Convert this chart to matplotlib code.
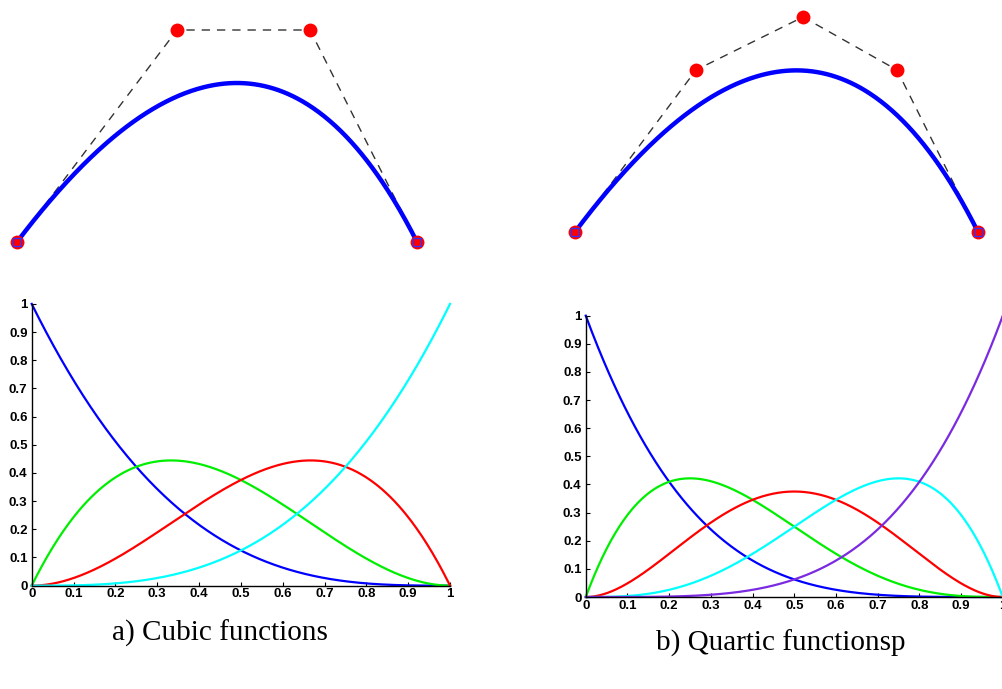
import numpy as np
import matplotlib
matplotlib.use("Agg")
import matplotlib.pyplot as plt
from math import comb

# control polygons, drawn in a page frame (x to the right, y downwards)
cubic_x = [17, 177, 310, 417]
cubic_y = [242, 30, 30, 242]
quartic_x = [575, 696, 803, 897, 978]
quartic_y = [232, 70, 17, 70, 232]

# basis function colours, one per Bernstein polynomial
cubic_colors = ["#0000ff", "#00ee00", "#ff0000", "#00ffff"]
quartic_colors = ["#0000ff", "#00ee00", "#ff0000", "#00ffff", "#7a2ae0"]

tick_vals = [0, 0.1, 0.2, 0.3, 0.4, 0.5, 0.6, 0.7, 0.8, 0.9, 1]
tick_labels = ["0", "0.1", "0.2", "0.3", "0.4", "0.5", "0.6", "0.7", "0.8", "0.9", "1"]

captions = ["a) Cubic functions", "b) Quartic functionsp"]


def bernstein(n, i, t):
    return comb(n, i) * t**i * (1 - t)**(n - i)


def bezier(px, py, t):
    n = len(px) - 1
    bx = sum(bernstein(n, i, t) * px[i] for i in range(n + 1))
    by = sum(bernstein(n, i, t) * py[i] for i in range(n + 1))
    return bx, by


t = np.linspace(0, 1, 400)

fig = plt.figure(figsize=(10.03, 6.89), dpi=100)

# top: curves with their control points
top = fig.add_axes([0, 0, 1, 1])
top.set_xlim(0, 1003)
top.set_ylim(689, 0)
top.axis("off")

for px, py in [(cubic_x, cubic_y), (quartic_x, quartic_y)]:
    top.plot(px, py, color="#333333", lw=1.0, ls=(0, (6, 5)), zorder=1)
    bx, by = bezier(px, py, t)
    top.plot(bx, by, color="#0000ff", lw=3.2, zorder=2,
             solid_capstyle="round")
    top.plot(px, py, "o", color="#ff0000", ms=10, mec="none", zorder=3)
    ends_x = [px[0], px[-1]]
    ends_y = [py[0], py[-1]]
    top.plot(ends_x, ends_y, "s", mfc="#ff0000", mec="#3030ff", mew=1.0,
             ms=5.5, zorder=4)

# bottom: basis functions
boxes = [[0.0316, 0.150, 0.4171, 0.4089], [0.5840, 0.1335, 0.4158, 0.4083]]
for box, colors in zip(boxes, [cubic_colors, quartic_colors]):
    ax = fig.add_axes(box)
    n = len(colors) - 1
    for i, c in enumerate(colors):
        ax.plot(t, bernstein(n, i, t), color=c, lw=1.6, clip_on=False)
    ax.set_xlim(0, 1)
    ax.set_ylim(0, 1)
    ax.spines["top"].set_visible(False)
    ax.spines["right"].set_visible(False)
    ax.spines["left"].set_linewidth(1.0)
    ax.spines["bottom"].set_linewidth(1.0)
    ax.set_xticks(tick_vals)
    ax.set_yticks(tick_vals)
    ax.set_xticklabels(tick_labels)
    ax.set_yticklabels(tick_labels)
    ax.tick_params(direction="in", length=3, width=0.8, pad=2,
                   labelsize=9.5)
    ax.tick_params(axis="y", pad=3)
    for lab in ax.get_xticklabels() + ax.get_yticklabels():
        lab.set_fontfamily("Liberation Sans")
        lab.set_fontweight("bold")
    ax.patch.set_alpha(0)

fig.text(220 / 1003, 1 - 633 / 689, captions[0], family="Liberation Serif",
         fontsize=21, ha="center", va="center")
fig.text(781 / 1003, 1 - 643 / 689, captions[1], family="Liberation Serif",
         fontsize=21, ha="center", va="center")

fig.savefig("out.png", dpi=100)
